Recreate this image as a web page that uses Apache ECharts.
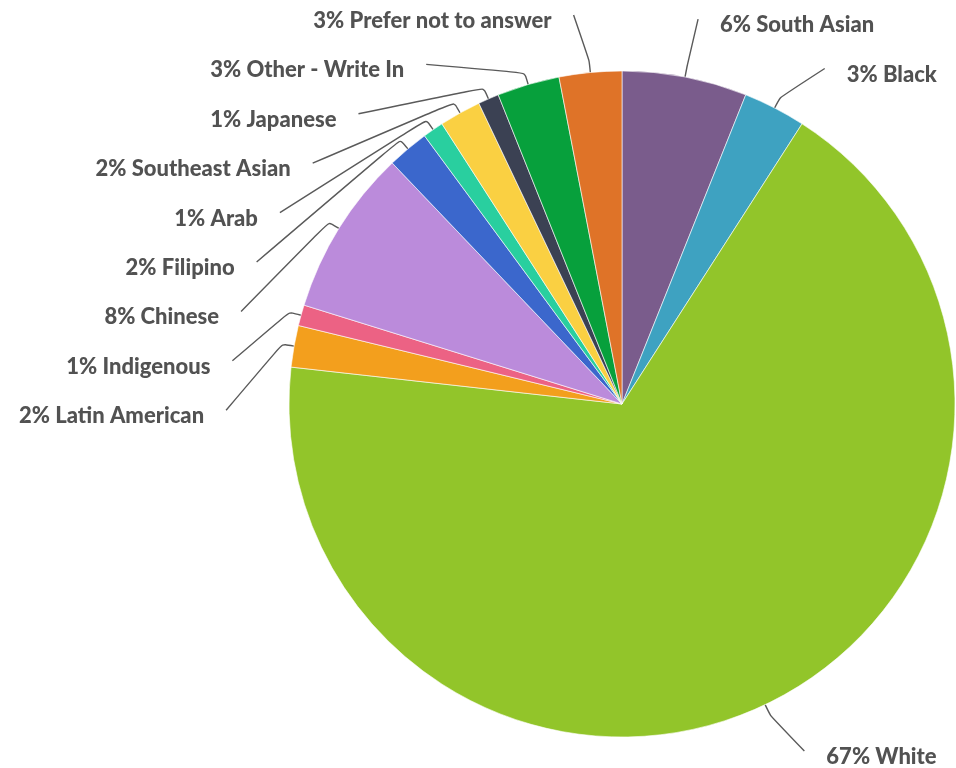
<!DOCTYPE html>
<html>
<head>
<meta charset="utf-8">
<script src="https://cdn.jsdelivr.net/npm/echarts@6/dist/echarts.min.js"></script>
<style>
  html, body { margin: 0; padding: 0; background: #ffffff; }
  #chart { width: 956px; height: 768px; }
</style>
</head>
<body>
<div id="chart"></div>
<script>
// Survey breakdown by group, clockwise from 12 o'clock
const categories = [
  'South Asian', 'Black', 'White', 'Latin American', 'Indigenous', 'Chinese',
  'Filipino', 'Arab', 'Southeast Asian', 'Japanese', 'Other - Write In', 'Prefer not to answer'
];
const shares = [6, 3, 67, 2, 1, 8, 2, 1, 2, 1, 3, 3];
const sliceColors = [
  '#7a5c8c', '#3ea2c1', '#92c52a', '#f39f1d', '#ec6284', '#bb8bdb',
  '#3b67cc', '#29cf9f', '#fad042', '#3b4153', '#07a03c', '#df7328'
];

// Pie geometry and label stacking settings
const CX = 622, CY = 404, R = 333;
const LINE_R = 392;      // radius where leader lines end
const ROW = 49.4;        // vertical distance between stacked labels
const TOP = 21, BOTTOM = 757;
const STUB = 12;         // radial stub before the leader bends
const GAP = 22;          // leader end to text
const TEXT_DROP = 6;     // text centre sits a little below the leader end

const total = shares.reduce((a, b) => a + b, 0);
let acc = 0;
const mids = shares.map(v => {
  const m = (acc + v / 2) / total * 2 * Math.PI;
  acc += v;
  return m;
});

// Resolve label rows per side: natural position, pushed apart, clamped to the canvas
const placement = [];
['right', 'left'].forEach(side => {
  const items = mids
    .map((m, i) => i)
    .filter(i => (Math.sin(mids[i]) >= 0) === (side === 'right'))
    .map(i => ({ i, y: CY - LINE_R * Math.cos(mids[i]) + TEXT_DROP }))
    .sort((a, b) => a.y - b.y);
  let prev = -Infinity;
  items.forEach(it => { it.y = Math.max(it.y, TOP, prev + ROW); prev = it.y; });
  let next = Infinity;
  for (let k = items.length - 1; k >= 0; k--) {
    items[k].y = Math.min(items[k].y, BOTTOM, next - ROW);
    next = items[k].y;
  }
  items.forEach(it => {
    const m = mids[it.i];
    const sgn = side === 'right' ? 1 : -1;
    const endY = it.y - TEXT_DROP;
    const dy = endY - CY;
    const circleDx = Math.sqrt(Math.max(0, LINE_R * LINE_R - dy * dy));
    const naturalDx = Math.abs((LINE_R + 10) * Math.sin(m));
    const endX = CX + sgn * Math.max(circleDx, naturalDx);
    placement[it.i] = {
      textX: endX + sgn * GAP,
      textY: it.y,
      align: side === 'right' ? 'left' : 'right',
      points: [
        [CX + R * Math.sin(m), CY - R * Math.cos(m)],
        [CX + (R + STUB) * Math.sin(m), CY - (R + STUB) * Math.cos(m)],
        [endX, endY]
      ]
    };
  });
});

const chart = echarts.init(document.getElementById('chart'), null, { renderer: 'canvas' });
chart.setOption({
  animation: false,
  backgroundColor: '#ffffff',
  series: [{
    type: 'pie',
    center: [CX, CY],
    radius: [0, R],
    startAngle: 90,
    clockwise: true,
    avoidLabelOverlap: false,
    emphasis: { disabled: true },
    itemStyle: { borderColor: '#ffffff', borderWidth: 0.6 },
    label: {
      show: true,
      position: 'outside',
      formatter: '{c}% {b}',
      fontFamily: 'Lato',
      fontWeight: 900,
      fontSize: 22,
      color: '#525252'
    },
    labelLine: {
      show: true,
      smooth: 0.2,
      lineStyle: { color: '#5a5a5a', width: 1.4 }
    },
    labelLayout: function (p) {
      const pl = placement[p.dataIndex];
      return {
        x: pl.textX,
        y: pl.textY,
        align: pl.align,
        verticalAlign: 'middle',
        labelLinePoints: pl.points
      };
    },
    data: categories.map((name, i) => ({
      name: name,
      value: shares[i],
      itemStyle: { color: sliceColors[i] }
    }))
  }]
});
</script>
</body>
</html>
